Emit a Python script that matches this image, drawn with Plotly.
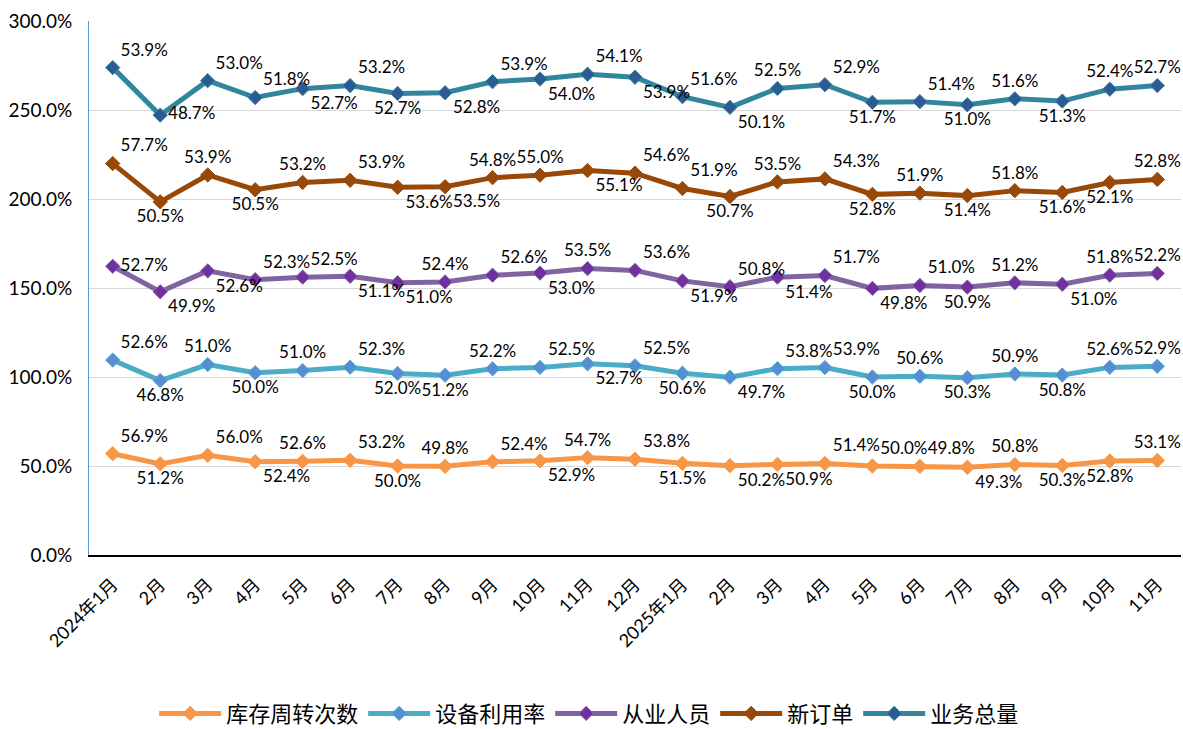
import numpy as np
import plotly.graph_objects as go

months = ["2024年1月", "2月", "3月", "4月", "5月", "6月", "7月", "8月", "9月", "10月", "11月", "12月",
          "2025年1月", "2月", "3月", "4月", "5月", "6月", "7月", "8月", "9月", "10月", "11月"]

inventory = [56.9, 51.2, 56.0, 52.4, 52.6, 53.2, 50.0, 49.8, 52.4, 52.9, 54.7, 53.8,
             51.5, 50.2, 50.9, 51.4, 50.0, 49.8, 49.3, 50.8, 50.3, 52.8, 53.1]
equipment = [52.6, 46.8, 51.0, 50.0, 51.0, 52.3, 52.0, 51.2, 52.2, 52.5, 52.7, 52.5,
             50.6, 49.7, 53.8, 53.9, 50.0, 50.6, 50.3, 50.9, 50.8, 52.6, 52.9]
staff = [52.7, 49.9, 52.6, 52.3, 52.5, 51.1, 51.0, 52.4, 52.6, 53.0, 53.5, 53.6,
         51.9, 50.8, 51.4, 51.7, 49.8, 51.0, 50.9, 51.2, 51.0, 51.8, 52.2]
new_orders = [57.7, 50.5, 53.9, 50.5, 53.2, 53.9, 53.6, 53.5, 54.8, 55.0, 55.1, 54.6,
              51.9, 50.7, 53.5, 54.3, 52.8, 51.9, 51.4, 51.8, 51.6, 52.1, 52.8]
business = [53.9, 48.7, 53.0, 51.8, 52.7, 53.2, 52.7, 52.8, 53.9, 54.0, 54.1, 53.9,
            51.6, 50.1, 52.5, 52.9, 51.7, 51.4, 51.0, 51.6, 51.3, 52.4, 52.7]

y_ticks = [0, 50, 100, 150, 200, 250, 300]
y_tick_labels = ["0.0%", "50.0%", "100.0%", "150.0%", "200.0%", "250.0%", "300.0%"]

names = ["库存周转次数", "设备利用率", "从业人员", "新订单", "业务总量"]
series = [inventory, equipment, staff, new_orders, business]
line_colors = ["#F79646", "#4BACC6", "#8064A2", "#984807", "#31859C"]
marker_colors = ["#F79646", "#558ED5", "#7030A0", "#984807", "#2E5A94"]

# label position codes per series
pos_codes = [
    "TR BC TR BR TC TR BC TC TR BR TC TR BC BR BR TR TR TR BR TC BC BC TC",
    "TR BC TC BC TC TR BC BC TC TR BR TR BC BR TR TR BC TC BC TC BC TC TC",
    "MR BR BR TR TR BR BR TC TR BR TC TR BR TR BR TR BR TR BC TC BR TC TC",
    "TR BC TC BC TC TR BR BR TC TC BR TR TR BC TC TR BC TC BC TC BC BC TC",
    "TR MR TR TR BR TR BC BR TR BR TR BR TR BR TC TR BC TR BC TC BC TC TC",
]
code_map = {"TR": "top right", "TC": "top center", "BR": "bottom right",
            "BC": "bottom center", "MR": "middle right"}

cum = np.cumsum(np.array(series), axis=0)
x = list(range(len(months)))

fig = go.Figure()
for i, name in enumerate(names):
    fig.add_trace(go.Scatter(
        x=x, y=cum[i], name=name, mode="lines+markers+text",
        line=dict(color=line_colors[i], width=5),
        marker=dict(symbol="diamond", size=11, color=marker_colors[i],
                    line=dict(color=line_colors[i], width=1)),
        text=[f"{v:.1f}%" for v in series[i]],
        textposition=[code_map[c] for c in pos_codes[i].split()],
        textfont=dict(family="Lato, Liberation Sans, sans-serif", size=17, color="#000000"),
        cliponaxis=False,
        hoverinfo="skip",
    ))

fig.update_layout(
    width=1183, height=729,
    margin=dict(l=89, r=2, t=21, b=174, autoexpand=False),
    paper_bgcolor="white", plot_bgcolor="white",
    font=dict(family="Lato, Noto Sans CJK SC, sans-serif", color="#000000"),
    showlegend=True,
    legend=dict(orientation="h", x=0.458, xanchor="center", y=-0.297, yanchor="middle",
                font=dict(family="Noto Sans CJK SC, sans-serif", size=22, color="#000000"),
                itemwidth=62, tracegroupgap=0),
)
fig.update_xaxes(
    range=[-0.5, len(months) - 0.5], automargin=False,
    tickmode="array", tickvals=x, ticktext=months, tickangle=-45,
    tickfont=dict(family="Lato, Noto Sans CJK SC, sans-serif", size=18),
    ticklabelstandoff=10,
    showgrid=False, showline=True, linecolor="#000000", linewidth=2,
    ticks="", zeroline=False,
)
fig.update_yaxes(
    range=[0, 300], automargin=False,
    tickmode="array", tickvals=y_ticks, ticktext=y_tick_labels,
    tickfont=dict(family="Lato, Liberation Sans, sans-serif", size=19),
    ticklabelstandoff=12,
    showgrid=True, gridcolor="#D9D9D9", gridwidth=1,
    showline=True, linecolor="#5B9BD5", linewidth=1,
    zeroline=False, ticks="",
)

fig.write_html("out.html", config={"displayModeBar": False},
               post_script="document.body.style.margin='0px';")
